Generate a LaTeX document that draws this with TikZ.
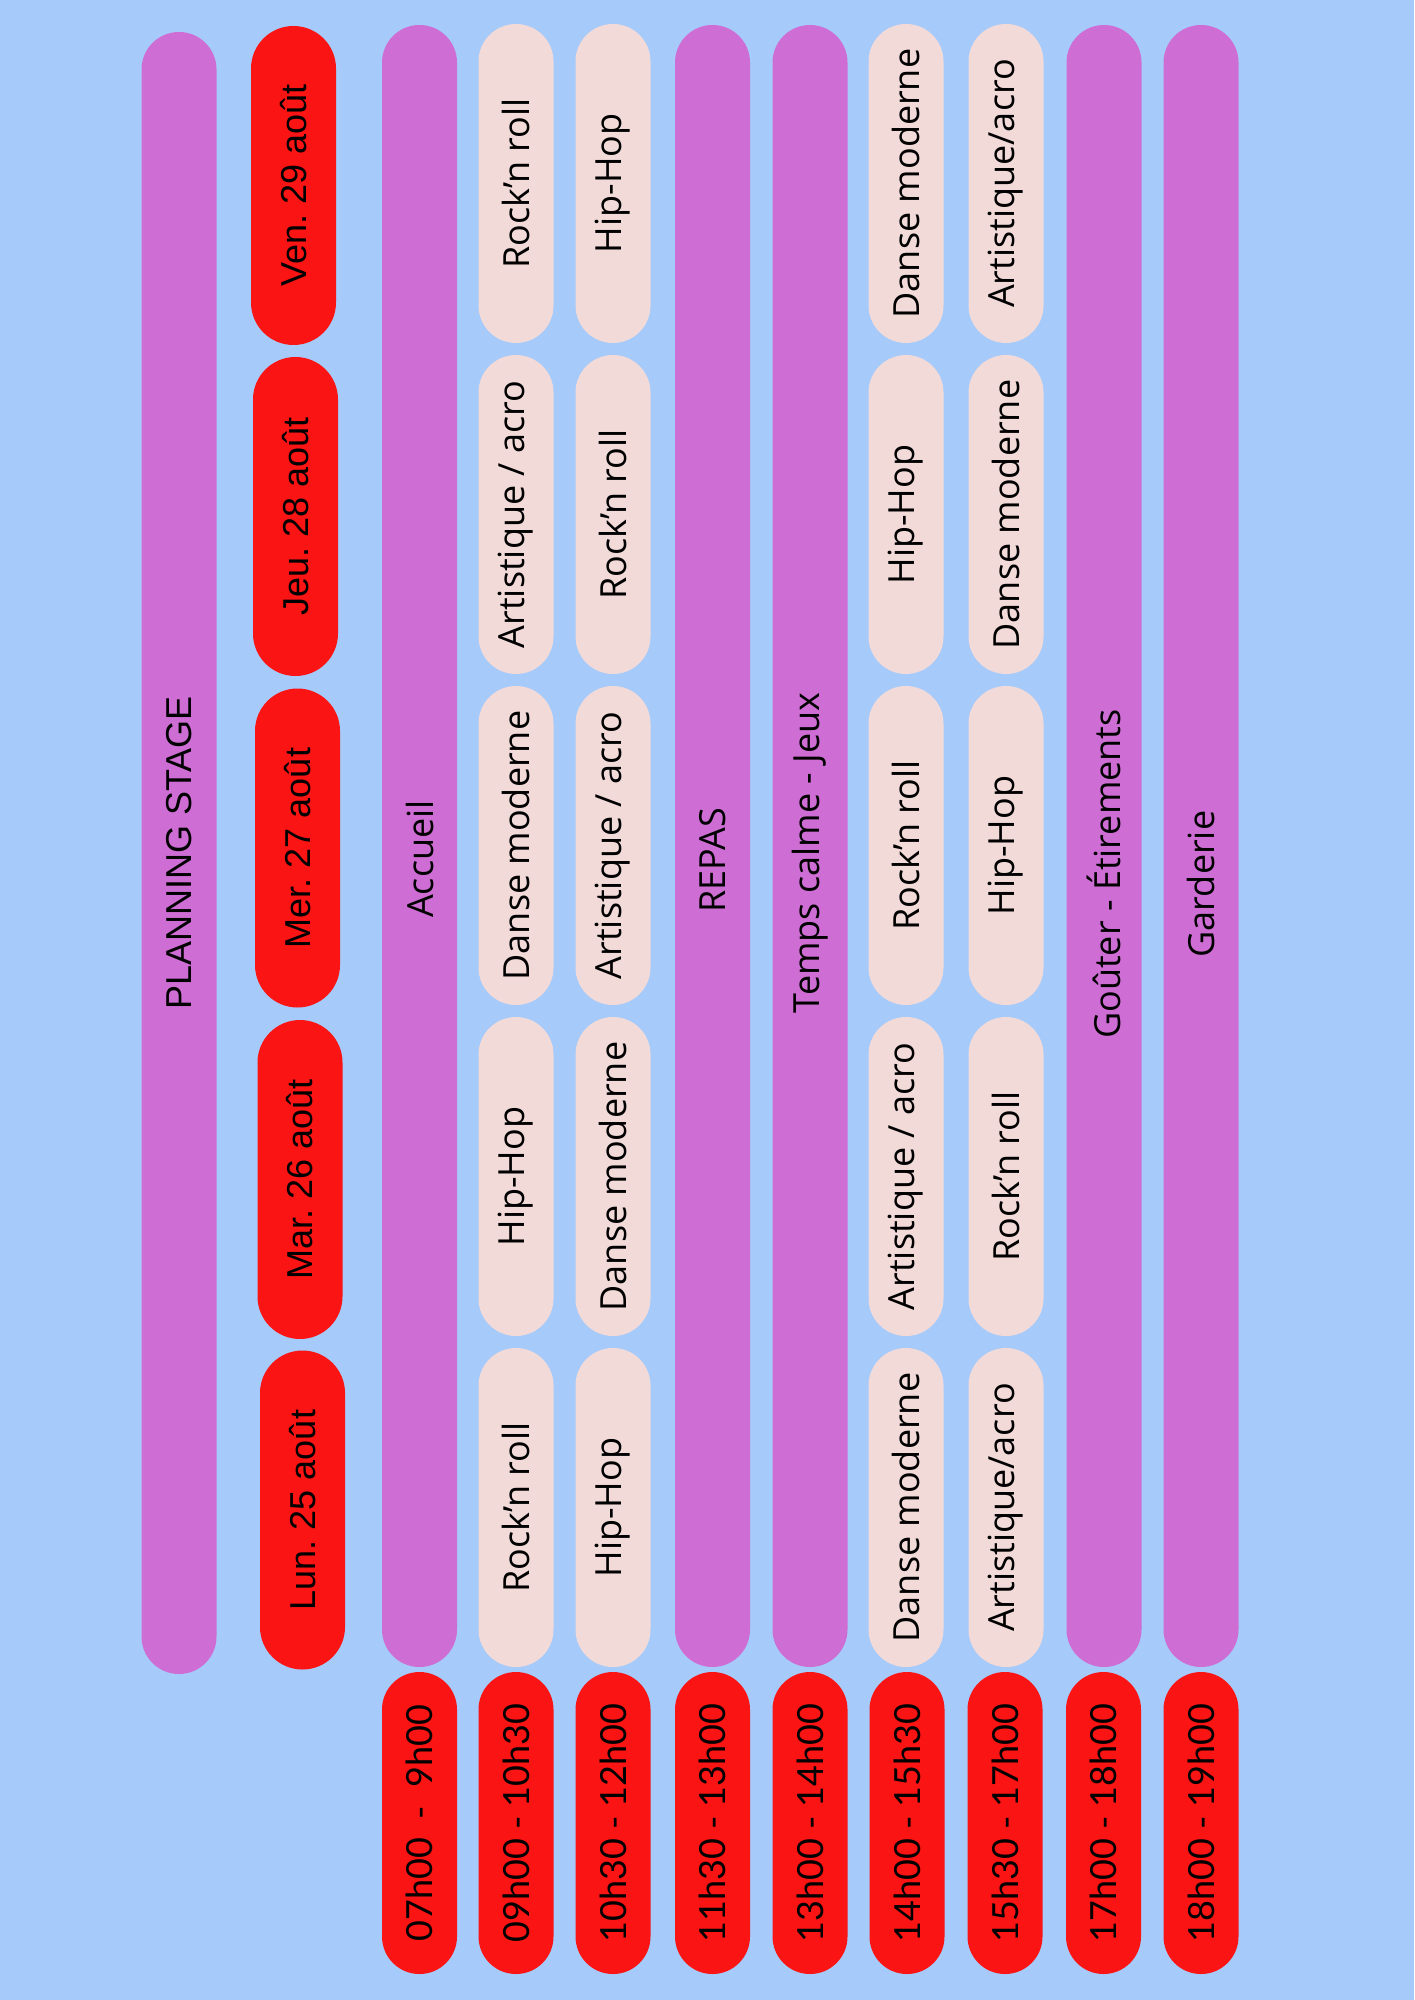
\documentclass[tikz,border=0pt]{standalone}
\usepackage{fontspec}
\setmainfont{Open Sans}
\newfontfamily\dayfont{Liberation Sans}
\newfontfamily\hourfont{Lato}
\usepackage{tikz}
\frenchspacing

\definecolor{skyblue}{HTML}{A6CAF9}
\definecolor{mauve}{HTML}{CE6ED4}
\definecolor{vivid}{HTML}{FA1414}
\definecolor{blush}{HTML}{F2DAD9}

\tikzset{
  pillbase/.style={rotate=90, inner sep=0pt, text=black, font=\fontsize{18}{20}\selectfont},
  longbar/.style={pillbase, fill=mauve, minimum width=821pt, minimum height=37.5pt, rounded corners=18.75pt},
  barlabel/.style={pillbase},
  actpill/.style={pillbase, fill=blush, minimum width=159.5pt, minimum height=37.5pt, rounded corners=18.75pt},
  daypill/.style={pillbase, fill=vivid, minimum width=159.5pt, minimum height=42.5pt, rounded corners=21.25pt, font=\dayfont\fontsize{18}{20}\selectfont},
  hourpill/.style={pillbase, fill=vivid, minimum width=151pt, minimum height=37.5pt, rounded corners=18.75pt, font=\hourfont\fontsize{18}{20}\selectfont},
}

\begin{document}
\begin{tikzpicture}[x=0.5pt,y=-0.5pt]
        \useasboundingbox (0,0) rectangle (1414,2000);
        % Background
        \fill[skyblue] (0,0) rectangle (1414,2000);

        % Title bar
        \node[longbar, font=\dayfont\fontsize{18}{20}\selectfont] (title) at (179,853) {PLANNING STAGE};

        % Day pills
        \node[daypill] (ven) at (293.5,185.5) {Ven. 29 août};
        \node[daypill] (jeu) at (295.5,516.5) {Jeu. 28 août};
        \node[daypill] (mer) at (297.5,848) {Mer. 27 août};
        \node[daypill] (mar) at (300,1179.5) {Mar. 26 août};
        \node[daypill] (lun) at (302.5,1510) {Lun. 25 août};

        % Common slots, labels a bit below the middle
        \foreach \x/\name/\ly/\txt in {419.5/accueil/859/Accueil, 712.5/repas/860/REPAS,
            810/calme/853/{Temps calme - Jeux}, 1104/gouter/874/{Goûter - Étirements},
            1201/garderie/884/Garderie}
        {
            \node[longbar] (\name) at (\x,846) {};
            \node[barlabel] (\name-label) at (\x,\ly) {\txt};
        }

        % Workshops, from Ven. (top) to Lun. (bottom)
        \foreach \x/\acts [count=\c] in {
            516/{Rock’n roll,Artistique / acro,Danse moderne,Hip-Hop,Rock’n roll},
            613/{Hip-Hop,Rock’n roll,Artistique / acro,Danse moderne,Hip-Hop},
            906/{Danse moderne,Hip-Hop,Rock’n roll,Artistique / acro,Danse moderne},
            1006/{Artistique/acro,Danse moderne,Hip-Hop,Rock’n roll,Artistique/acro}}
        {
            \foreach \a [count=\r] in \acts {
                \pgfmathsetmacro\yy{183.5+331*(\r-1)}
                \node[actpill] (act-\c-\r) at (\x,\yy) {\a};
            }
        }

        % Time slots
        \foreach \x/\t [count=\i] in {419.5/{07h00~~-~~9h00}, 516/{09h00 - 10h30},
            613/{10h30 - 12h00}, 712.5/{11h30 - 13h00}, 810/{13h00 - 14h00},
            907/{14h00 - 15h30}, 1005/{15h30 - 17h00}, 1103.5/{17h00 - 18h00},
            1201/{18h00 - 19h00}}
            \node[hourpill] (hour-\i) at (\x,1823) {\t};

\end{tikzpicture}
\end{document}
